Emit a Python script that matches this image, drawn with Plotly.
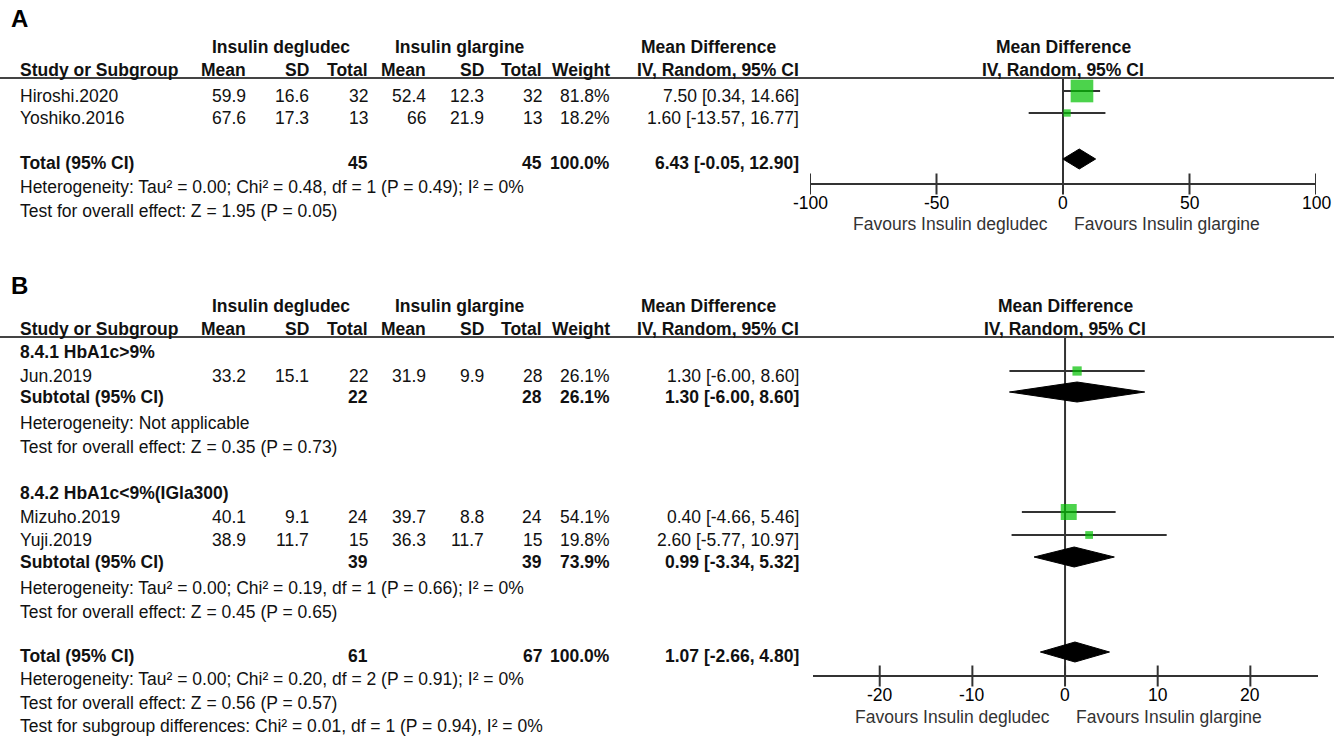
import plotly.graph_objects as go

# ---- panel A data (Insulin degludec vs Insulin glargine)
studies_a = ["Hiroshi.2020", "Yoshiko.2016"]
mean_deg_a = [59.9, 67.6]
sd_deg_a = [16.6, 17.3]
n_deg_a = [32, 13]
mean_gla_a = [52.4, 66]
sd_gla_a = [12.3, 21.9]
n_gla_a = [32, 13]
weight_a = [81.8, 18.2]
md_a = [7.50, 1.60]
lo_a = [0.34, -13.57]
hi_a = [14.66, 16.77]
total_n_a = [45, 45]
total_ci_a = [6.43, -0.05, 12.90]
notes_a = ["Heterogeneity: Tau² = 0.00; Chi² = 0.48, df = 1 (P = 0.49); I² = 0%",
           "Test for overall effect: Z = 1.95 (P = 0.05)"]
ticks_a = [-100, -50, 0, 50, 100]

# ---- panel B data
groups_b = ["8.4.1 HbA1c>9%", "8.4.2 HbA1c<9%(IGla300)"]
studies_b = ["Jun.2019", "Mizuho.2019", "Yuji.2019"]
mean_deg_b = [33.2, 40.1, 38.9]
sd_deg_b = [15.1, 9.1, 11.7]
n_deg_b = [22, 24, 15]
mean_gla_b = [31.9, 39.7, 36.3]
sd_gla_b = [9.9, 8.8, 11.7]
n_gla_b = [28, 24, 15]
weight_b = [26.1, 54.1, 19.8]
md_b = [1.30, 0.40, 2.60]
lo_b = [-6.00, -4.66, -5.77]
hi_b = [8.60, 5.46, 10.97]
sub_n_deg = [22, 39]
sub_n_gla = [28, 39]
sub_weight = [26.1, 73.9]
sub_md = [1.30, 0.99]
sub_lo = [-6.00, -3.34]
sub_hi = [8.60, 5.32]
sub_notes = [["Heterogeneity: Not applicable",
              "Test for overall effect: Z = 0.35 (P = 0.73)"],
             ["Heterogeneity: Tau² = 0.00; Chi² = 0.19, df = 1 (P = 0.66); I² = 0%",
              "Test for overall effect: Z = 0.45 (P = 0.65)"]]
total_n_b = [61, 67]
total_ci_b = [1.07, -2.66, 4.80]
notes_b = ["Heterogeneity: Tau² = 0.00; Chi² = 0.20, df = 2 (P = 0.91); I² = 0%",
           "Test for overall effect: Z = 0.56 (P = 0.57)",
           "Test for subgroup differences: Chi² = 0.01, df = 1 (P = 0.94), I² = 0%"]
ticks_b = [-20, -10, 0, 10, 20]

W, H = 1336, 738
FONT = "Liberation Sans, Arial, sans-serif"
FS = 17.5
GREEN = "#00c000"
GREY = "#333333"

# column right edges (px) for the table
COLS = [248, 311, 370, 428, 486, 544, 612, 801]
X_STUDY = 18

fig = go.Figure()
ann = []
shapes = []


def txt(x, y, s, anchor="left", bold=False, size=FS, xref="x", color="#111111", xshift=0):
    if bold:
        s = "<b>" + s + "</b>"
    ann.append(dict(x=x, y=y, xref=xref, yref="y", text=s, showarrow=False,
                    xanchor=anchor, yanchor="middle", xshift=xshift,
                    font=dict(family=FONT, size=size, color=color)))


def fmt_ci(m, l, h):
    return f"{m:.2f} [{l:.2f}, {h:.2f}]"


def header(y1, y2, yline, xaxis):
    txt(281, y1, "Insulin degludec", "center", True)
    txt(460, y1, "Insulin glargine", "center", True)
    txt(708, y1, "Mean Difference", "center", True)
    txt(0, y1, "Mean Difference", "center", True, xref=xaxis)
    txt(X_STUDY, y2, "Study or Subgroup", bold=True)
    for lab, c in zip(["Mean", "SD", "Total", "Mean", "SD", "Total", "Weight", "IV, Random, 95% CI"], COLS):
        txt(c, y2, lab, "right", True)
    txt(0, y2, "IV, Random, 95% CI", "center", True, xref=xaxis)
    shapes.append(dict(type="line", xref="x", yref="y", x0=0, x1=1334, y0=yline, y1=yline,
                       line=dict(color="#444444", width=2)))


def study_row(y, name, vals, ci, bold=False):
    if name:
        txt(X_STUDY, y, name, bold=bold)
    for v, c in zip(vals, COLS):
        if v is not None:
            txt(c, y, v, "right", bold)
    txt(COLS[-1], y, ci, "right", bold)


def forest(xaxis, ys, md, lo, hi, weights, dia, ytop, yaxis_line, ticks, xrange, ytick, yfav):
    # zero line
    fig.add_trace(go.Scatter(x=[0, 0], y=[ytop, yaxis_line], mode="lines", xaxis=xaxis, yaxis="y",
                             line=dict(color=GREY, width=2), hoverinfo="skip"))
    # confidence interval lines
    lx, ly = [], []
    for y, l, h in zip(ys, lo, hi):
        lx += [l, h, None]
        ly += [y, y, None]
    fig.add_trace(go.Scatter(x=lx, y=ly, mode="lines", xaxis=xaxis, yaxis="y",
                             line=dict(color=GREY, width=2), hoverinfo="skip"))
    fig.add_trace(go.Scatter(x=md, y=ys, mode="markers", xaxis=xaxis, yaxis="y",
                             marker=dict(symbol="square", color=GREEN,
                                         size=[3 + 0.24 * w for w in weights], line=dict(width=0))))
    for (y, m, l, h) in dia:
        fig.add_trace(go.Scatter(x=[l, m, h, m, l], y=[y, y - 10, y, y + 10, y], mode="lines",
                                 fill="toself", fillcolor="black", xaxis=xaxis, yaxis="y",
                                 line=dict(color="black", width=1), hoverinfo="skip"))
    # axis with crossing ticks
    fig.add_trace(go.Scatter(x=xrange, y=[yaxis_line, yaxis_line], mode="lines", xaxis=xaxis, yaxis="y",
                             line=dict(color=GREY, width=2), hoverinfo="skip"))
    fig.add_trace(go.Scatter(x=ticks, y=[yaxis_line] * len(ticks), mode="markers", xaxis=xaxis, yaxis="y",
                             marker=dict(symbol="line-ns", size=15, line=dict(color=GREY, width=2)),
                             hoverinfo="skip"))
    for t in ticks:
        txt(t, ytick, str(t), "center", xref=xaxis, color="#000000")
    txt(0, yfav, "Favours Insulin degludec", "right", xref=xaxis, color="#333333", xshift=-13)
    txt(0, yfav, "Favours Insulin glargine", "left", xref=xaxis, color="#333333", xshift=9)


# ================= panel A =================
txt(9, 18, "A", bold=True, size=24, color="#000000")
header(47, 70, 78, "x2")
rows_a = [96, 118]
for i, y in enumerate(rows_a):
    study_row(y, studies_a[i],
              [f"{mean_deg_a[i]:g}", f"{sd_deg_a[i]:g}", str(n_deg_a[i]),
               f"{mean_gla_a[i]:g}", f"{sd_gla_a[i]:g}", str(n_gla_a[i]), f"{weight_a[i]:.1f}%"],
              fmt_ci(md_a[i], lo_a[i], hi_a[i]))
y_tot_a = 163
study_row(y_tot_a, "Total (95% CI)",
          [None, None, str(total_n_a[0]), None, None, str(total_n_a[1]), f"{sum(weight_a):.1f}%"],
          fmt_ci(*total_ci_a), bold=True)
for k, note in enumerate(notes_a):
    txt(X_STUDY, 187 + 24 * k, note)

forest("x2", [y - 5 for y in rows_a], md_a, lo_a, hi_a, weight_a,
       [(y_tot_a - 4, *total_ci_a)], 78, 184, ticks_a, [-100, 100], 203, 224)

# ================= panel B =================
txt(9, 285, "B", bold=True, size=24, color="#000000")
header(306, 329, 337, "x3")
group_rows = [352, 493]
study_rows_b = [376, 517, 540]
sub_rows = [397, 562]
for g, name in enumerate(groups_b):
    txt(X_STUDY, group_rows[g], name, bold=True)
    study_row(sub_rows[g], "Subtotal (95% CI)",
              [None, None, str(sub_n_deg[g]), None, None, str(sub_n_gla[g]), f"{sub_weight[g]:.1f}%"],
              fmt_ci(sub_md[g], sub_lo[g], sub_hi[g]), bold=True)
    for k, note in enumerate(sub_notes[g]):
        txt(X_STUDY, sub_rows[g] + 26 + 24 * k, note)
for i, y in enumerate(study_rows_b):
    study_row(y, studies_b[i],
              [f"{mean_deg_b[i]:g}", f"{sd_deg_b[i]:g}", str(n_deg_b[i]),
               f"{mean_gla_b[i]:g}", f"{sd_gla_b[i]:g}", str(n_gla_b[i]), f"{weight_b[i]:.1f}%"],
              fmt_ci(md_b[i], lo_b[i], hi_b[i]))
y_tot_b = 656
study_row(y_tot_b, "Total (95% CI)",
          [None, None, str(total_n_b[0]), None, None, str(total_n_b[1]), f"{sum(sub_weight):.1f}%"],
          fmt_ci(*total_ci_b), bold=True)
for k, note in enumerate(notes_b):
    txt(X_STUDY, 679 + 23.5 * k, note)

dia_b = [(sub_rows[g] - 5, sub_md[g], sub_lo[g], sub_hi[g]) for g in range(len(groups_b))]
dia_b.append((y_tot_b - 4, *total_ci_b))
forest("x3", [y - 5 for y in study_rows_b], md_b, lo_b, hi_b, weight_b,
       dia_b, 337, 676, ticks_b, [-27.2, 27.3], 695, 717)

hidden = dict(visible=False, fixedrange=True)
fig.update_layout(
    width=W, height=H, margin=dict(l=0, r=0, t=0, b=0),
    paper_bgcolor="white", plot_bgcolor="rgba(0,0,0,0)", showlegend=False,
    xaxis=dict(range=[0, W], domain=[0, 1], **hidden),
    xaxis2=dict(range=[-100, 100], domain=[810 / W, 1316 / W], anchor="y", **hidden),
    xaxis3=dict(range=[-27.2, 27.3], domain=[813 / W, 1318 / W], anchor="y", **hidden),
    yaxis=dict(range=[H, 0], domain=[0, 1], **hidden),
    annotations=ann, shapes=shapes,
)
fig.write_html("out.html", config={"displayModeBar": False},
               post_script="document.body.style.margin='0';document.body.style.overflow='hidden';")
